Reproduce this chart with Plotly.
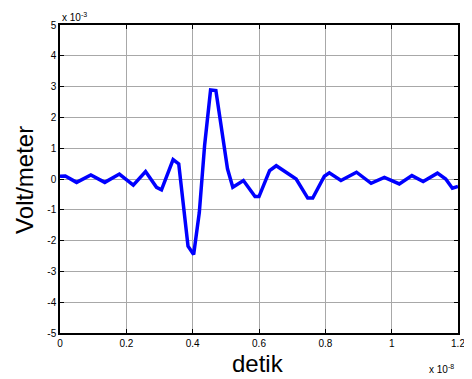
import plotly.graph_objects as go

# time (x 1e-8 s)
t = [0.0, 0.016, 0.05, 0.093, 0.135, 0.179, 0.221, 0.258, 0.291, 0.306, 0.341, 0.358,
     0.386, 0.403, 0.42, 0.436, 0.454, 0.47, 0.505, 0.521, 0.553, 0.588, 0.6, 0.632,
     0.652, 0.712, 0.747, 0.762, 0.797, 0.812, 0.847, 0.894, 0.938, 0.978, 1.023,
     1.061, 1.095, 1.138, 1.163, 1.183, 1.2]
# field (x 1e-3 V/m)
e = [0.09, 0.1, -0.11, 0.13, -0.11, 0.16, -0.2, 0.24, -0.27, -0.35, 0.63, 0.49,
     -2.18, -2.45, -1.09, 1.09, 2.89, 2.87, 0.33, -0.27, -0.05, -0.57, -0.57, 0.27,
     0.43, 0.0, -0.62, -0.62, 0.09, 0.2, -0.05, 0.22, -0.14, 0.05, -0.16,
     0.11, -0.08, 0.19, 0.0, -0.3, -0.24]

x_ticks = [0, 0.2, 0.4, 0.6, 0.8, 1, 1.2]
x_tick_text = ["0", "0.2", "0.4", "0.6", "0.8", "1", "1.2"]
y_ticks = [-5, -4, -3, -2, -1, 0, 1, 2, 3, 4, 5]
y_tick_text = ["-5", "-4", "-3", "-2", "-1", "0", "1", "2", "3", "4", "5"]

FONT = "Liberation Sans, Arial"

fig = go.Figure()
fig.add_trace(go.Scatter(x=t, y=e, mode="lines",
                         line=dict(color="#0000FF", width=3.5), showlegend=False))

axis_common = dict(showline=True, linecolor="black", linewidth=1.5, mirror="ticks",
                   ticks="inside", ticklen=4, tickcolor="black", automargin=False,
                   showgrid=True, gridcolor="#A8A8A8", gridwidth=1, zeroline=False,
                   tickfont=dict(family=FONT, size=10, color="black"))

fig.update_xaxes(range=[0, 1.2], tickvals=x_ticks, ticktext=x_tick_text, **axis_common)
fig.update_yaxes(range=[-5, 5], tickvals=y_ticks, ticktext=y_tick_text, **axis_common)

# axis titles
fig.add_annotation(text="detik", xref="paper", yref="paper", x=0.497, y=-0.1006,
                   xanchor="center", yanchor="middle", showarrow=False,
                   font=dict(family=FONT, size=24, color="black"))
fig.add_annotation(text="Volt/meter", xref="paper", yref="paper", x=-0.088, y=0.497,
                   xanchor="center", yanchor="middle", textangle=-90, showarrow=False,
                   font=dict(family=FONT, size=24, color="black"))

# exponent labels
fig.add_annotation(text="x 10<sup>-3</sup>", xref="paper", yref="paper", x=0, y=1.0,
                   xanchor="left", yanchor="bottom", showarrow=False,
                   font=dict(family=FONT, size=10, color="black"))
fig.add_annotation(text="x 10<sup>-8</sup>", xref="paper", yref="paper", x=0.995, y=-0.09,
                   xanchor="right", yanchor="top", showarrow=False,
                   font=dict(family=FONT, size=10, color="black"))

# page body has an 8px default margin: compensate so the plot area lands at
# x 60..458, y 25..333 of the 472x379 window
fig.update_layout(width=464, height=371, paper_bgcolor="white", plot_bgcolor="white",
                  margin=dict(l=52, r=14, t=17, b=46))

fig.write_html("out.html")
